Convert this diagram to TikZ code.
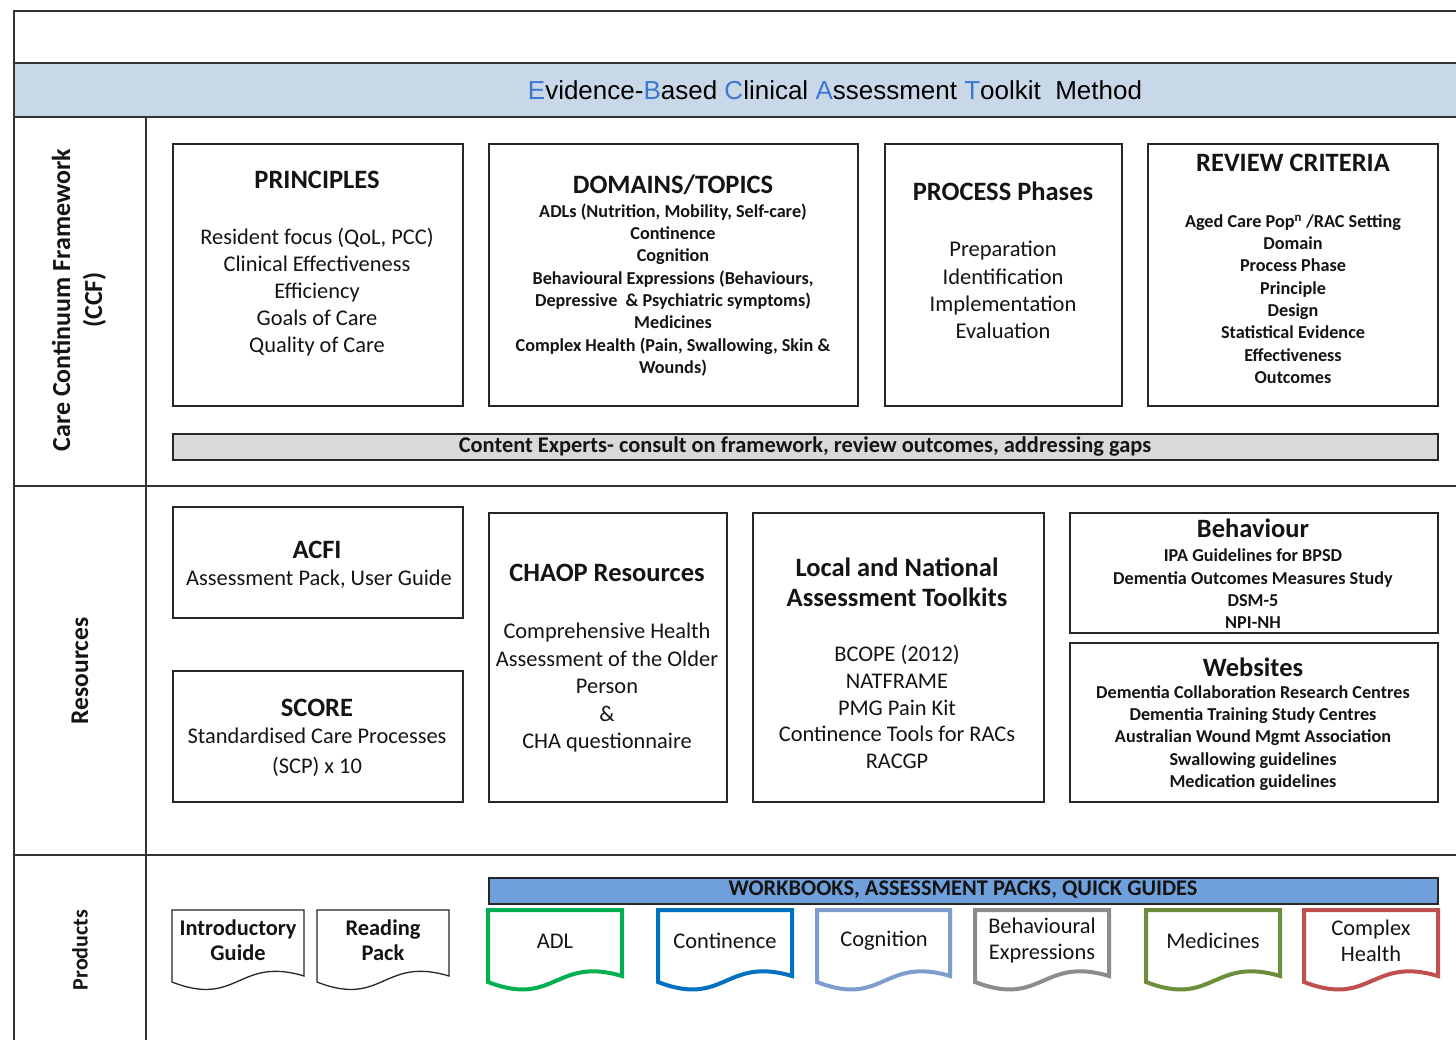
\documentclass[tikz,border=0pt]{standalone}
\usepackage{fontspec}
\setmainfont{Carlito}
\newfontfamily\titlefont{Liberation Sans}
\definecolor{band}{RGB}{201,216,232}
\definecolor{tblue}{RGB}{60,120,210}
\definecolor{wbar}{RGB}{112,160,220}
\definecolor{cgray}{RGB}{217,217,217}
\definecolor{txt}{RGB}{20,20,20}
\definecolor{cgreen}{RGB}{0,176,80}
\definecolor{cblue}{RGB}{0,112,192}
\definecolor{clblue}{RGB}{124,157,205}
\definecolor{cgrey}{RGB}{140,140,140}
\definecolor{colive}{RGB}{107,142,58}
\definecolor{cred}{RGB}{192,80,77}
\newcommand{\docshape}[4]{%
  \draw[#4] (#1,#2) -- (#3,#2) -- (#3,#2+66)
    .. controls ({(#1+#3)/2},#2+46) and ({(#1+#3)/2},#2+98) .. (#1,#2+72) -- cycle;}
\begin{document}
\begin{tikzpicture}[x=1pt,y=-1pt,
  frame/.style={draw=black!80,line width=1.6pt},
  box/.style={draw=black!85,line width=1.5pt,fill=white,inner sep=0pt,anchor=north west},
  head/.style={text=txt,font=\bfseries\fontsize{26.5}{30}\selectfont,align=center},
  body/.style={text=txt,font=\fontsize{22.4}{27}\selectfont,align=center},
  small/.style={text=txt,font=\bfseries\fontsize{18.2}{22.3}\selectfont,align=center},
  side/.style={text=txt,rotate=90,align=center},
  thin doc/.style={draw=black!85,line width=1.3pt,fill=white},
  thick doc/.style={line width=4pt,fill=white,line join=miter}]
\useasboundingbox (0,0) rectangle (1456,1039);
\fill[white] (0,0) rectangle (1456,1039);
% frame
\fill[band] (14,63) rectangle (1470,117);
\draw[frame] (1470,11) -- (14,11) -- (14,1050);
\draw[frame] (14,63) -- (1470,63);
\draw[frame] (14,117) -- (1470,117);
\draw[frame] (14,486) -- (1470,486);
\draw[frame] (14,855) -- (1470,855);
\draw[frame] (146,117) -- (146,1050);
\node[text=black,font=\titlefont\fontsize{26}{30}\selectfont] (title) at (835,90)
  {\textcolor{tblue}{E}vidence-\textcolor{tblue}{B}ased \textcolor{tblue}{C}linical \textcolor{tblue}{A}ssessment \textcolor{tblue}{T}oolkit\ \ Method};
% side labels
\node[side,font=\bfseries\fontsize{26}{32}\selectfont] (ccf) at (79,300) {Care Continuum Framework\\(CCF)};
\node[side,font=\bfseries\fontsize{25.5}{26}\selectfont] (res) at (80,671) {Resources};
\node[side,font=\bfseries\fontsize{22}{24}\selectfont] (prod) at (80,950) {Products};
% CCF row
\node[box,minimum width=290pt,minimum height=262pt] (pbox) at (172,143) {};
\node[head] (ph) at (317,180) {PRINCIPLES};
\node[body] (pb) at (317,292) {Resident focus (QoL, PCC)\\Clinical Effectiveness\\Efficiency\\Goals of Care\\Quality of Care};
\node[box,minimum width=369pt,minimum height=262pt] (dbox) at (488,143) {};
\node[head] (dh) at (673,185) {DOMAINS/TOPICS};
\node[small] (db) at (673,290) {ADLs (Nutrition, Mobility, Self-care)\\Continence\\Cognition\\Behavioural Expressions (Behaviours,\\Depressive\ \ \& Psychiatric symptoms)\\Medicines\\Complex Health (Pain, Swallowing, Skin \&\\Wounds)};
\node[box,minimum width=237pt,minimum height=262pt] (prbox) at (884,143) {};
\node[head] (prh) at (1003,191) {PROCESS Phases};
\node[body,font=\fontsize{22.5}{27.3}\selectfont] (prb) at (1003,290) {Preparation\\Identification\\Implementation\\Evaluation};
\node[box,minimum width=290pt,minimum height=262pt] (rbox) at (1147,143) {};
\node[head] (rh) at (1293,163) {REVIEW CRITERIA};
\node[small] (rb) at (1293,299) {Aged Care Pop\textsuperscript{n} /RAC Setting\\Domain\\Process Phase\\Principle\\Design\\Statistical Evidence\\Effectiveness\\Outcomes};
\node[box,fill=cgray,minimum width=1265pt,minimum height=26pt] (cbar) at (172,433) {};
\node[text=txt,font=\bfseries\fontsize{22.4}{24}\selectfont] (ct) at (805,447) {Content Experts- consult on framework, review outcomes, addressing gaps};
% Resources row
\node[box,minimum width=290pt,minimum height=111pt] (abox) at (172,506) {};
\node[head] (ah) at (317,550) {ACFI};
\node[body] (ab) at (319,579) {Assessment Pack, User Guide};
\node[box,minimum width=290pt,minimum height=131pt] (sbox) at (172,670) {};
\node[head] (sh) at (317,708) {SCORE};
\node[body,font=\fontsize{22.4}{30}\selectfont] (sb) at (317,752) {Standardised Care Processes\\(SCP) x 10};
\node[box,minimum width=238pt,minimum height=289pt] (chbox) at (488,512) {};
\node[head] (chh) at (607,573) {CHAOP Resources};
\node[body,font=\fontsize{22.4}{27.5}\selectfont] (chb) at (607,688) {Comprehensive Health\\Assessment of the Older\\Person\\\&\\CHA questionnaire};
\node[box,minimum width=291pt,minimum height=289pt] (lbox) at (752,512) {};
\node[head] (lh) at (897,582) {Local and National\\Assessment Toolkits};
\node[body,font=\fontsize{22.4}{26.8}\selectfont] (lb) at (897,707) {BCOPE (2012)\\NATFRAME\\PMG Pain Kit\\Continence Tools for RACs\\RACGP};
\node[box,minimum width=368pt,minimum height=120pt] (bbox) at (1069,512) {};
\node[head] (bh) at (1253,528) {Behaviour};
\node[small] (bb) at (1253,589) {IPA Guidelines for BPSD\\Dementia Outcomes Measures Study\\DSM-5\\NPI-NH};
\node[box,minimum width=368pt,minimum height=159pt] (wbox) at (1069,642) {};
\node[head] (wh) at (1253,667) {Websites};
\node[small] (wb) at (1253,738) {Dementia Collaboration Research Centres\\Dementia Training Study Centres\\Australian Wound Mgmt Association\\Swallowing guidelines\\Medication guidelines};
% Products row
\node[box,fill=wbar,minimum width=949pt,minimum height=26pt] (wkbar) at (488,877) {};
\node[text=txt,font=\bfseries\fontsize{22.4}{24}\selectfont] (wkt) at (963,890) {WORKBOOKS, ASSESSMENT PACKS, QUICK GUIDES};
\docshape{172}{910}{304}{thin doc}
\docshape{317}{910}{449}{thin doc}
\docshape{488}{910}{622}{thick doc,draw=cgreen}
\docshape{658}{910}{792}{thick doc,draw=cblue}
\docshape{817}{910}{950}{thick doc,draw=clblue}
\docshape{975}{910}{1109}{thick doc,draw=cgrey}
\docshape{1146}{910}{1280}{thick doc,draw=colive}
\docshape{1304}{910}{1438}{thick doc,draw=cred}
\node[text=txt,font=\bfseries\fontsize{22.4}{25}\selectfont,align=center] (d1) at (238,940) {Introductory\\Guide};
\node[text=txt,font=\bfseries\fontsize{22.4}{25}\selectfont,align=center] (d2) at (383,940) {Reading\\Pack};
\node[body,font=\fontsize{22.4}{26}\selectfont] (d3) at (555,941) {ADL};
\node[body,font=\fontsize{22.4}{26}\selectfont] (d4) at (725,941) {Continence};
\node[body,font=\fontsize{22.4}{26}\selectfont] (d5) at (884,941) {Cognition};
\node[body,font=\fontsize{22.4}{26}\selectfont] (d6) at (1042,941) {Behavioural\\Expressions};
\node[body,font=\fontsize{22.4}{26}\selectfont] (d7) at (1213,941) {Medicines};
\node[body,font=\fontsize{22.4}{26}\selectfont] (d8) at (1371,941) {Complex\\Health};
\end{tikzpicture}
\end{document}
